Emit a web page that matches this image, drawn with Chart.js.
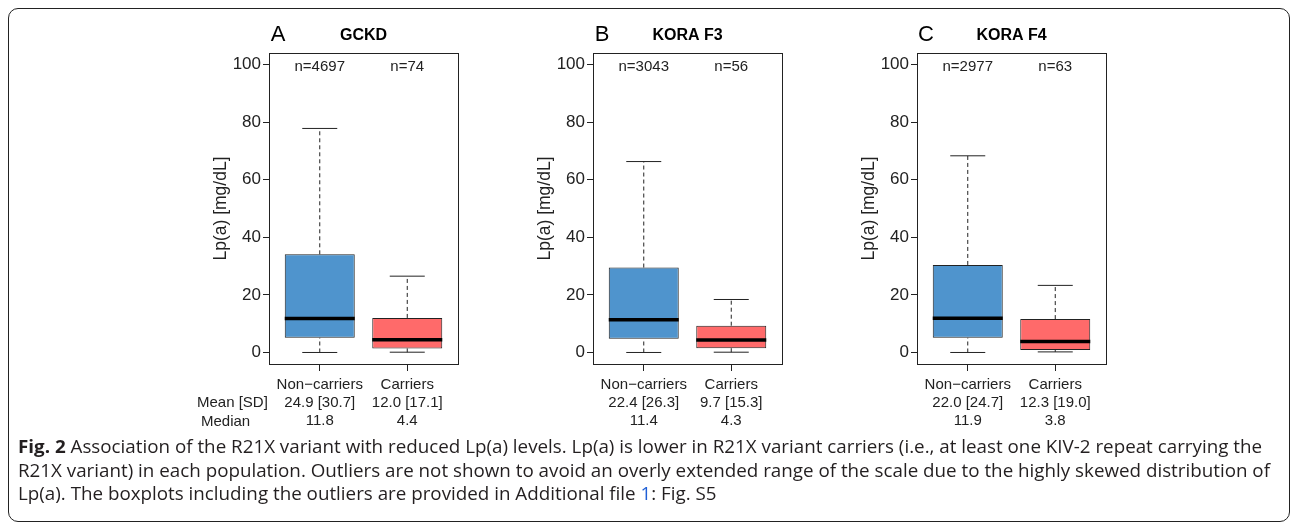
<!DOCTYPE html>
<html lang="en">
<head>
<meta charset="UTF-8" />
<title>Fig. 2 Lp(a) boxplots</title>
<script src="https://cdn.jsdelivr.net/npm/chart.js"></script>
<style>
  html, body { margin: 0; padding: 0; background: #fff; }
  body { width: 1292px; height: 525px; position: relative; overflow: hidden; font-family: "Liberation Sans", Arial, sans-serif; }
  .frame { position: absolute; left: 8px; top: 8px; width: 1282px; height: 514px; border: 1.5px solid #222; border-radius: 10px; box-sizing: border-box; }
  .panel { position: absolute; top: 0; width: 324px; height: 445px; }
  .cap { position: absolute; left: 18px; white-space: nowrap; font-family: "Open Sans", sans-serif; font-size: 18px; line-height: 24px; color: #231f20; transform-origin: 0 50%; }
  .cap b { font-weight: 700; }
  .cap .lnk { color: #1f5fd6; }
</style>
</head>
<body>
  <div class="frame"></div>

  <div class="panel" style="left:150px"><canvas id="panel0"></canvas></div>
  <div class="panel" style="left:474px"><canvas id="panel1"></canvas></div>
  <div class="panel" style="left:798px"><canvas id="panel2"></canvas></div>

  <div class="cap" style="top:434px"><b>Fig. 2</b> Association of the R21X variant with reduced Lp(a) levels. Lp(a) is lower in R21X variant carriers (i.e., at least one KIV-2 repeat carrying the</div>
  <div class="cap" style="top:458px">R21X variant) in each population. Outliers are not shown to avoid an overly extended range of the scale due to the highly skewed distribution of</div>
  <div class="cap" style="top:481px">Lp(a). The boxplots including the outliers are provided in Additional file <span class="lnk">1</span>: Fig. S5</div>

  <script>
    // values
    const panelLetters = ['A', 'B', 'C'];
    const cohorts = ['GCKD', 'KORA F3', 'KORA F4'];
    const groups = ['Non\u2212carriers', 'Carriers'];
    const sampleSizes = [[4697, 74], [3043, 56], [2977, 63]];
    const meanSd = [['24.9 [30.7]', '12.0 [17.1]'], ['22.4 [26.3]', '9.7 [15.3]'], ['22.0 [24.7]', '12.3 [19.0]']];
    const medianLabels = [['11.8', '4.4'], ['11.4', '4.3'], ['11.9', '3.8']];

    const whiskerLow = [[0, 0.1], [0, 0.1], [0, 0.2]];
    const q1 = [[5.1, 1.4], [4.8, 1.5], [5.1, 0.9]];
    const medians = [[11.8, 4.4], [11.4, 4.3], [11.9, 3.8]];
    const q3 = [[34.1, 12.0], [29.5, 9.3], [30.4, 11.6]];
    const whiskerHigh = [[77.8, 26.5], [66.3, 18.4], [68.3, 23.3]];

    const yTicks = [0, 20, 40, 60, 80, 100];
    const boxColors = ['#4F94CD', '#FF6A6A'];

    const ink = '#222';

    function seg(x0, y0, x1, y1, extra) {
      return Object.assign({
        type: 'line',
        data: [{ x: x0, y: y0 }, { x: x1, y: y1 }],
        borderColor: ink,
        borderWidth: 1,
        pointRadius: 0,
        fill: false,
        order: 1
      }, extra || {});
    }

    function makePanel(p) {
      const datasets = [{
        type: 'bar',
        data: groups.map((g, i) => ({ x: i + 1, y: [q1[p][i], q3[p][i]] })),
        backgroundColor: boxColors,
        borderColor: ink,
        borderWidth: 1,
        borderSkipped: false,
        categoryPercentage: 1,
        barPercentage: 0.8,
        order: 2
      }];

      groups.forEach((g, i) => {
        const x = i + 1;
        datasets.push(seg(x, q3[p][i], x, whiskerHigh[p][i], { borderDash: [4, 3] }));
        datasets.push(seg(x, whiskerLow[p][i], x, q1[p][i], { borderDash: [4, 3] }));
        datasets.push(seg(x - 0.2, whiskerHigh[p][i], x + 0.2, whiskerHigh[p][i]));
        datasets.push(seg(x - 0.2, whiskerLow[p][i], x + 0.2, whiskerLow[p][i]));
        datasets.push(seg(x - 0.4, medians[p][i], x + 0.4, medians[p][i], { borderWidth: 3.5, borderColor: '#000', order: 0 }));
      });

      const decor = {
        id: 'decor',
        afterDraw(chart) {
          const { ctx, chartArea: a, scales } = chart;
          ctx.save();
          // box around the plot region
          ctx.strokeStyle = ink;
          ctx.lineWidth = 1;
          ctx.strokeRect(Math.round(a.left) + 0.5, Math.round(a.top) + 0.5, Math.round(a.right - a.left), Math.round(a.bottom - a.top));

          ctx.fillStyle = ink;
          ctx.textBaseline = 'middle';
          ctx.textAlign = 'center';
          ctx.font = '15px "Liberation Sans", Arial, sans-serif';
          const yN = scales.y.getPixelForValue(100) + 2;
          sampleSizes[p].forEach((n, i) => {
            ctx.fillText('n=' + n, scales.x.getPixelForValue(i + 1), yN);
          });

          ctx.fillStyle = '#000';
          ctx.font = 'bold 16px "Liberation Sans", Arial, sans-serif';
          ctx.fillText(cohorts[p], (a.left + a.right) / 2, 36);
          ctx.font = '22px "Liberation Sans", Arial, sans-serif';
          ctx.fillText(panelLetters[p], a.left + 9, 35);

          if (p === 0) {
            ctx.fillStyle = ink;
            ctx.textAlign = 'left';
            ctx.font = '15px "Liberation Sans", Arial, sans-serif';
            ctx.fillText('Mean [SD]', a.left - 72, a.bottom + 39);
            ctx.fillText('Median', a.left - 68, a.bottom + 57.5);
          }
          ctx.restore();
        }
      };

      new Chart(document.getElementById('panel' + p), {
        type: 'bar',
        data: { datasets },
        options: {
          responsive: true,
          maintainAspectRatio: false,
          animation: false,
          layout: { padding: { left: 57, top: 53, right: 16, bottom: 11 } },
          plugins: { legend: { display: false }, tooltip: { enabled: false } },
          scales: {
            x: {
              type: 'linear',
              min: 0.42,
              max: 2.58,
              offset: false,
              afterBuildTicks: s => { s.ticks = [{ value: 1 }, { value: 2 }]; },
              afterFit: s => { s.height = 70; },
              ticks: {
                autoSkip: false,
                maxRotation: 0,
                padding: 5,
                color: ink,
                font: { family: '"Liberation Sans", Arial, sans-serif', size: 15, lineHeight: 1.2 },
                callback: v => {
                  const i = Math.round(v) - 1;
                  return [groups[i], meanSd[p][i], medianLabels[p][i]];
                }
              },
              grid: { drawOnChartArea: false, offset: false, tickLength: 7, color: ink },
              border: { color: ink }
            },
            y: {
              min: -4,
              max: 104,
              afterBuildTicks: s => { s.ticks = yTicks.map(v => ({ value: v })); },
              afterFit: s => { s.width = 62; },
              ticks: {
                padding: 2,
                color: ink,
                font: { family: '"Liberation Sans", Arial, sans-serif', size: 17 }
              },
              grid: { drawOnChartArea: false, tickLength: 6, color: ink },
              border: { color: ink },
              title: {
                display: true,
                text: 'Lp(a) [mg/dL]',
                color: ink,
                font: { family: '"Liberation Sans", Arial, sans-serif', size: 17.5 }
              }
            }
          }
        },
        plugins: [decor]
      });
    }

    panelLetters.forEach((l, p) => makePanel(p));

    // the caption font is narrower than any installed one, squeeze to the measured width
    const capLines = document.querySelectorAll('.cap');
    const k = 1244 / capLines[0].getBoundingClientRect().width;
    capLines.forEach(el => { el.style.transform = 'scaleX(' + k + ')'; });
  </script>
</body>
</html>
